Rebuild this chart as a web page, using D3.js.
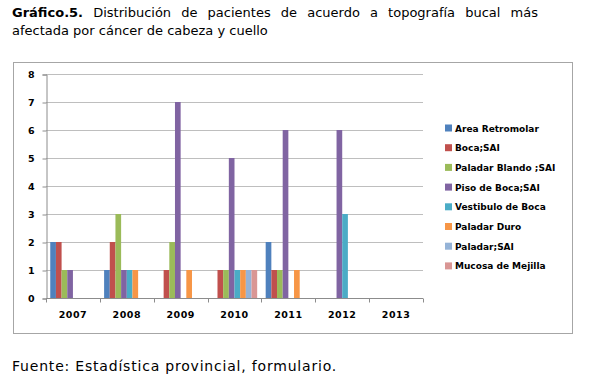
<!DOCTYPE html>
<html>
<head>
<meta charset="utf-8">
<script src="https://cdn.jsdelivr.net/npm/d3@7"></script>
<style>
body { margin: 0; background: #fff; }
svg { display: block; }
</style>
</head>
<body>
<svg></svg>
<script>
var screen = {width: 612, height: 382};
var plot = {left: 46, right: 423, top: 74, bottom: 298};

var years = ["2007", "2008", "2009", "2010", "2011", "2012", "2013"];
var seriesNames = ["Area Retromolar", "Boca;SAI", "Paladar Blando ;SAI", "Piso de Boca;SAI",
                   "Vestibulo de Boca", "Paladar Duro", "Paladar;SAI", "Mucosa de Mejilla"];
var colors = ["#4F81BD", "#C0504D", "#9BBB59", "#8064A2", "#4BACC6", "#F79646", "#95B3D7", "#D99694"];

// one array per series, values by year
var areaRetromolar = [2, 1, 0, 0, 2, 0, 0];
var bocaSAI        = [2, 2, 1, 1, 1, 0, 0];
var paladarBlando  = [1, 3, 2, 1, 1, 0, 0];
var pisoDeBoca     = [1, 1, 7, 5, 6, 6, 0];
var vestibulo      = [0, 1, 0, 1, 0, 3, 0];
var paladarDuro    = [0, 1, 1, 1, 1, 0, 0];
var paladarSAI     = [0, 0, 0, 1, 0, 0, 0];
var mucosa         = [0, 0, 0, 1, 0, 0, 0];
var yTicks = [0, 1, 2, 3, 4, 5, 6, 7, 8];

var seriesValues = [areaRetromolar, bocaSAI, paladarBlando, pisoDeBoca,
                    vestibulo, paladarDuro, paladarSAI, mucosa];

// flat list for the bars
var bars = []
seriesValues.forEach(function(vals, i) {
    vals.forEach(function(v, j) {
        if (v > 0) bars.push({series: seriesNames[i], year: years[j], value: v, color: colors[i]})
    })
})

var svg = d3.select("svg")
    .attr("width", screen.width)
    .attr("height", screen.height)

// title (first line is justified in the original)
var title = svg.append("text")
    .attr("x", 12)
    .attr("y", 17)
    .style("font-family", "DejaVu Sans")
    .style("font-size", "13px")
    .style("word-spacing", "6px")
    .attr("fill", "#000")
title.append("tspan").style("font-weight", "bold").text("Gráfico.5.")
title.append("tspan").text(" Distribución de pacientes de acuerdo a topografía bucal más")

svg.append("text")
    .attr("x", 12)
    .attr("y", 35)
    .style("font-family", "DejaVu Sans")
    .style("font-size", "13px")
    .text("afectada por cáncer de cabeza y cuello")

// chart frame
svg.append("rect")
    .attr("x", 13.5)
    .attr("y", 62.5)
    .attr("width", 559)
    .attr("height", 271)
    .attr("fill", "#fff")
    .attr("stroke", "#A6A6A6")
    .attr("stroke-width", 1)

var xScale = d3.scaleBand()
    .domain(years)
    .range([plot.left, plot.right])

var inner = d3.scaleBand()
    .domain(seriesNames)
    .range([0, xScale.bandwidth()])
    .paddingOuter(0.75)

var yScale = d3.scaleLinear()
    .domain([0, 8])
    .range([plot.bottom, plot.top])

// gridlines
svg.append("g")
    .selectAll("line")
    .data(yTicks.filter(function(d) { return d > 0; }))
    .enter()
    .append("line")
    .attr("x1", plot.left)
    .attr("x2", plot.right)
    .attr("y1", function(d) { return Math.round(yScale(d)) + 0.5; })
    .attr("y2", function(d) { return Math.round(yScale(d)) + 0.5; })
    .attr("stroke", "#BEBEBE")

// y axis
var yAxis = d3.axisLeft(yScale)
    .tickValues(yTicks)
    .tickSize(4)
    .tickPadding(8)
    .tickFormat(d3.format("d"))

var yG = svg.append("g")
    .attr("transform", "translate(" + (plot.left + 0.5) + ",0.5)")
    .call(yAxis)
yG.select(".domain").attr("stroke", "#8C8C8C")
yG.selectAll(".tick line").attr("stroke", "#8C8C8C")
yG.selectAll("text")
    .style("font-family", "DejaVu Sans")
    .style("font-weight", "bold")
    .style("font-size", "9.5px")
    .attr("fill", "#000")

// bars
svg.append("g")
    .selectAll("rect")
    .data(bars)
    .enter()
    .append("rect")
    .attr("x", function(d) { return xScale(d.year) + inner(d.series); })
    .attr("y", function(d) { return yScale(d.value); })
    .attr("width", inner.bandwidth())
    .attr("height", function(d) { return plot.bottom - yScale(d.value); })
    .attr("fill", function(d) { return d.color; })

// x axis, tick marks between categories
var xG = svg.append("g")
    .attr("transform", "translate(0," + (plot.bottom + 0.5) + ")")
xG.append("line")
    .attr("x1", plot.left)
    .attr("x2", plot.right)
    .attr("stroke", "#8C8C8C")
xG.selectAll(".tk")
    .data(years.concat(["end"]))
    .enter()
    .append("line")
    .attr("x1", function(d) { return Math.round(d === "end" ? plot.right : xScale(d)) + 0.5; })
    .attr("x2", function(d) { return Math.round(d === "end" ? plot.right : xScale(d)) + 0.5; })
    .attr("y1", 0)
    .attr("y2", 4)
    .attr("stroke", "#8C8C8C")
xG.selectAll("text")
    .data(years)
    .enter()
    .append("text")
    .attr("x", function(d) { return xScale(d) + xScale.bandwidth() / 2; })
    .attr("y", 19.5)
    .attr("text-anchor", "middle")
    .style("font-family", "DejaVu Sans")
    .style("font-weight", "bold")
    .style("font-size", "9.5px")
    .style("letter-spacing", "0.5px")
    .text(function(d) { return d; })

// legend
var legend = svg.append("g")
    .attr("transform", "translate(445,128)")
var item = legend.selectAll("g")
    .data(seriesNames)
    .enter()
    .append("g")
    .attr("transform", function(d, i) { return "translate(0," + (i * 19.7) + ")"; })
item.append("rect")
    .attr("x", 0)
    .attr("y", -3.5)
    .attr("width", 7)
    .attr("height", 7)
    .attr("fill", function(d, i) { return colors[i]; })
item.append("text")
    .attr("x", 10)
    .attr("y", 3.5)
    .style("font-family", "DejaVu Sans")
    .style("font-weight", "bold")
    .style("font-size", "9px")
    .text(function(d) { return d; })

// source
svg.append("text")
    .attr("x", 12)
    .attr("y", 371)
    .style("font-family", "DejaVu Sans")
    .style("font-size", "14px")
    .style("letter-spacing", "0.8px")
    .text("Fuente: Estadística provincial, formulario.")
</script>
</body>
</html>
